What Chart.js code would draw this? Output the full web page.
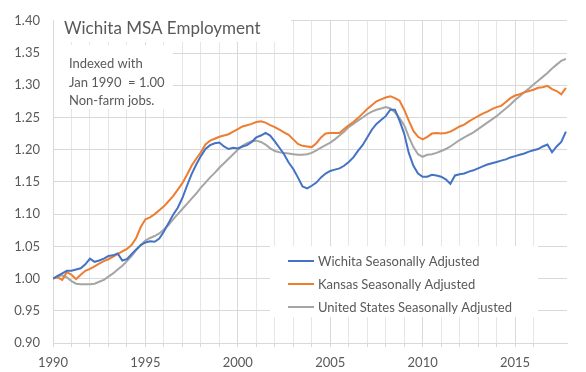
<!DOCTYPE html>
<html>
<head>
<meta charset="utf-8">
<script src="https://cdn.jsdelivr.net/npm/chart.js@4.4.1/dist/chart.umd.min.js"></script>
<style>
  body { margin: 0; background: #fff; }
</style>
</head>
<body>
<canvas id="mycanvas" width="586" height="372"></canvas>
<script>
// quarterly readings, Jan 1990 = 1.00
var quarters = [
	1990.00, 1990.25, 1990.50, 1990.75, 1991.00, 1991.25, 1991.50, 1991.75,
	1992.00, 1992.25, 1992.50, 1992.75, 1993.00, 1993.25, 1993.50, 1993.75,
	1994.00, 1994.25, 1994.50, 1994.75, 1995.00, 1995.25, 1995.50, 1995.75,
	1996.00, 1996.25, 1996.50, 1996.75, 1997.00, 1997.25, 1997.50, 1997.75,
	1998.00, 1998.25, 1998.50, 1998.75, 1999.00, 1999.25, 1999.50, 1999.75,
	2000.00, 2000.25, 2000.50, 2000.75, 2001.00, 2001.25, 2001.50, 2001.75,
	2002.00, 2002.25, 2002.50, 2002.75, 2003.00, 2003.25, 2003.50, 2003.75,
	2004.00, 2004.25, 2004.50, 2004.75, 2005.00, 2005.25, 2005.50, 2005.75,
	2006.00, 2006.25, 2006.50, 2006.75, 2007.00, 2007.25, 2007.50, 2007.75,
	2008.00, 2008.25, 2008.50, 2008.75, 2009.00, 2009.25, 2009.50, 2009.75,
	2010.00, 2010.25, 2010.50, 2010.75, 2011.00, 2011.25, 2011.50, 2011.75,
	2012.00, 2012.25, 2012.50, 2012.75, 2013.00, 2013.25, 2013.50, 2013.75,
	2014.00, 2014.25, 2014.50, 2014.75, 2015.00, 2015.25, 2015.50, 2015.75,
	2016.00, 2016.25, 2016.50, 2016.75, 2017.00, 2017.25, 2017.50, 2017.75
];

var wichita = [
	1.000, 1.004, 1.008, 1.012, 1.012, 1.014, 1.016, 1.022,
	1.031, 1.026, 1.028, 1.031, 1.035, 1.036, 1.039, 1.028,
	1.030, 1.038, 1.045, 1.052, 1.056, 1.058, 1.057, 1.062,
	1.073, 1.086, 1.099, 1.110, 1.125, 1.144, 1.162, 1.177,
	1.190, 1.201, 1.207, 1.210, 1.211, 1.205, 1.201, 1.203,
	1.202, 1.205, 1.207, 1.212, 1.219, 1.222, 1.226, 1.222,
	1.213, 1.203, 1.193, 1.180, 1.170, 1.157, 1.143, 1.140,
	1.144, 1.149, 1.157, 1.163, 1.167, 1.169, 1.171, 1.175,
	1.181, 1.188, 1.198, 1.207, 1.219, 1.231, 1.240, 1.246,
	1.252, 1.262, 1.262, 1.245, 1.225, 1.195, 1.175, 1.163,
	1.158, 1.158, 1.161, 1.160, 1.158, 1.154, 1.147, 1.160,
	1.162, 1.163, 1.166, 1.168, 1.171, 1.174, 1.177, 1.179,
	1.181, 1.183, 1.185, 1.188, 1.190, 1.192, 1.194, 1.197,
	1.199, 1.201, 1.205, 1.208, 1.196, 1.205, 1.212, 1.228
];

var kansas = [
	1.000, 1.002, 0.998, 1.010, 1.006, 0.999, 1.006, 1.012,
	1.015, 1.019, 1.023, 1.027, 1.030, 1.034, 1.038, 1.042,
	1.046, 1.052, 1.063, 1.080, 1.092, 1.095, 1.100, 1.106,
	1.112, 1.120, 1.128, 1.138, 1.148, 1.161, 1.175, 1.186,
	1.196, 1.208, 1.214, 1.217, 1.220, 1.222, 1.224, 1.228,
	1.232, 1.236, 1.238, 1.240, 1.243, 1.244, 1.242, 1.238,
	1.235, 1.231, 1.227, 1.223, 1.216, 1.209, 1.206, 1.205,
	1.204, 1.210, 1.219, 1.225, 1.226, 1.226, 1.226, 1.232,
	1.238, 1.243, 1.249, 1.256, 1.263, 1.269, 1.275, 1.278,
	1.281, 1.283, 1.280, 1.276, 1.262, 1.245, 1.229, 1.220,
	1.216, 1.220, 1.225, 1.226, 1.225, 1.226, 1.228, 1.232,
	1.236, 1.239, 1.244, 1.248, 1.252, 1.256, 1.259, 1.263,
	1.266, 1.268, 1.274, 1.280, 1.284, 1.286, 1.289, 1.291,
	1.293, 1.296, 1.297, 1.299, 1.294, 1.291, 1.286, 1.296
];

var unitedStates = [
	1.000, 1.003, 1.005, 1.002, 0.996, 0.992, 0.991, 0.991,
	0.991, 0.992, 0.995, 0.998, 1.003, 1.008, 1.014, 1.020,
	1.027, 1.035, 1.044, 1.052, 1.059, 1.063, 1.066, 1.070,
	1.076, 1.083, 1.092, 1.100, 1.108, 1.116, 1.124, 1.132,
	1.141, 1.149, 1.157, 1.164, 1.172, 1.179, 1.186, 1.193,
	1.200, 1.206, 1.210, 1.213, 1.214, 1.212, 1.208, 1.202,
	1.198, 1.196, 1.195, 1.194, 1.193, 1.192, 1.192, 1.193,
	1.195, 1.199, 1.203, 1.207, 1.211, 1.216, 1.222, 1.228,
	1.235, 1.240, 1.245, 1.250, 1.255, 1.259, 1.262, 1.264,
	1.266, 1.264, 1.258, 1.249, 1.238, 1.220, 1.204, 1.193,
	1.189, 1.192, 1.193, 1.195, 1.198, 1.201, 1.205, 1.210,
	1.215, 1.219, 1.223, 1.227, 1.232, 1.237, 1.242, 1.247,
	1.252, 1.258, 1.264, 1.270, 1.277, 1.283, 1.289, 1.295,
	1.301, 1.307, 1.313, 1.319, 1.326, 1.332, 1.338, 1.341
];

var seriesNames = ['Wichita Seasonally Adjusted', 'Kansas Seasonally Adjusted', 'United States Seasonally Adjusted'];
var chartTitle = 'Wichita MSA Employment';
var noteLines = ['Indexed with', 'Jan 1990  = 1.00', 'Non-farm jobs.'];

var FONT = 'Lato';
var TEXT = '#595959';

function points(values) {
	var out = [];
	for (var i in values) {
		out.push({ x: quarters[i], y: values[i] });
	}
	return out;
}

// white boxes with title, note and legend inside the plot
var notesPlugin = {
	id: 'notes',
	beforeDatasetsDraw: function(chart) {
		var ctx = chart.ctx;
		ctx.save();
		ctx.fillStyle = '#fff';
		ctx.fillRect(54, 10, 237, 32);
		ctx.fillRect(54, 45, 119, 64);
		ctx.fillRect(270, 246, 268, 71);

		ctx.fillStyle = TEXT;
		ctx.textBaseline = 'alphabetic';
		ctx.font = '17px ' + FONT;
		ctx.fillText(chartTitle, 64, 34);

		ctx.font = '13px ' + FONT;
		for (var i = 0; i < noteLines.length; i++) {
			ctx.fillText(noteLines[i], 69, 68 + i * 18.5);
		}

		chart.data.datasets.forEach(function(ds, i) {
			var y = 261 + i * 23;
			ctx.strokeStyle = ds.borderColor;
			ctx.lineWidth = 2;
			ctx.beginPath();
			ctx.moveTo(288, y);
			ctx.lineTo(314, y);
			ctx.stroke();
			ctx.fillStyle = TEXT;
			ctx.fillText(ds.label, 318, y + 4.5);
		});
		ctx.restore();
	}
};

var chartdata = {
	datasets: [
		{ label: seriesNames[0], data: points(wichita), borderColor: '#4472C4' },
		{ label: seriesNames[1], data: points(kansas), borderColor: '#ED7D31' },
		{ label: seriesNames[2], data: points(unitedStates), borderColor: '#A5A5A5' }
	]
};

var ctx = document.getElementById('mycanvas');

var lineGraph = new Chart(ctx, {
	type: 'line',
	data: chartdata,
	plugins: [notesPlugin],
	options: {
		responsive: false,
		animation: false,
		layout: { padding: { left: 0, right: 19, top: 9, bottom: 0 } },
		elements: {
			point: { radius: 0 },
			line: { borderWidth: 2, tension: 0 }
		},
		plugins: {
			legend: { display: false },
			tooltip: { enabled: false }
		},
		scales: {
			x: {
				type: 'linear',
				min: 1990,
				max: 2017.81,
				afterBuildTicks: function(axis) {
					axis.ticks = axis.ticks.filter(function(t) { return Number.isInteger(t.value); });
				},
				afterFit: function(scale) { scale.height = 29; },
				ticks: {
					stepSize: 1,
					autoSkip: false,
					maxRotation: 0,
					padding: 8,
					color: TEXT,
					font: { family: FONT, size: 13 },
					callback: function(v) { return v % 5 === 0 ? String(v) : ''; }
				},
				grid: {
					color: function(c) { return c.tick && c.tick.value % 5 === 0 ? '#d9d9d9' : '#e6e6e6'; },
					tickLength: 4,
					tickColor: '#d9d9d9'
				},
				border: { color: '#d9d9d9' }
			},
			y: {
				min: 0.9,
				max: 1.4,
				afterFit: function(scale) { scale.width = 53; },
				ticks: {
					stepSize: 0.05,
					padding: 13,
					color: TEXT,
					font: { family: FONT, size: 13 },
					callback: function(v) { return v.toFixed(2); }
				},
				grid: { color: '#d9d9d9', drawTicks: false },
				border: { color: '#d9d9d9' }
			}
		}
	}
});
</script>
</body>
</html>
